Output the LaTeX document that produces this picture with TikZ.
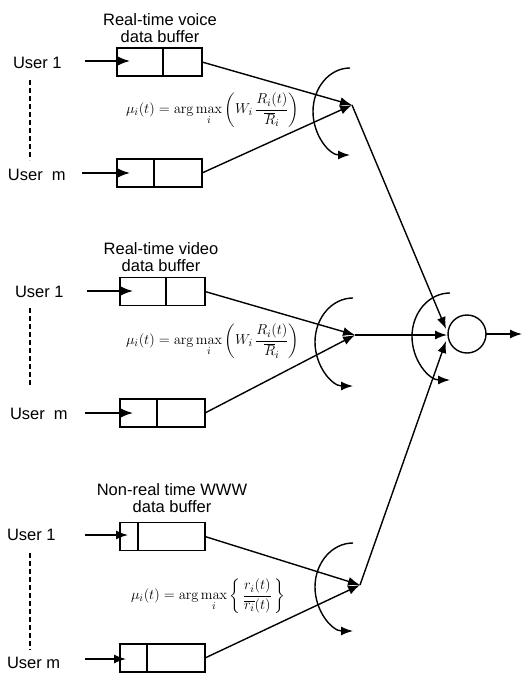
\documentclass[tikz,border=0pt]{standalone}
\usepackage{amsmath}
\usepackage[no-math]{fontspec}
\setmainfont{Liberation Sans}
\usetikzlibrary{arrows.meta}
\begin{document}
\begin{tikzpicture}[x=1pt,y=-1pt,
  every node/.style={inner sep=0pt, outer sep=0pt},
  lbl/.style={font=\fontsize{16.5}{19}\selectfont, align=center},
  frm/.style={font=\fontsize{15}{17}\selectfont},
  bufbox/.style={draw, line width=1.4pt, minimum width=85pt, minimum height=28pt},
  ln/.style={line width=1.4pt},
  arr/.style={line width=1.4pt, -{Latex[length=12pt,width=9pt]}},
  dsh/.style={line width=1.4pt, dash pattern=on 5pt off 3pt},
]
\useasboundingbox (0,0) rectangle (522,674);

% ===== voice =====
\node[lbl] (t1) at (160,28) {Real-time voice\\[-2pt]data buffer};
\node[lbl, anchor=west] (u1a) at (13,63) {User 1};
\node[lbl, anchor=west] (u1m) at (8,175) {User\hspace{0.55em}m};
\node[bufbox] (b1a) at (159.5,62) {};
\node[bufbox] (b1m) at (159.5,173) {};
\draw[ln] (163,48) -- (163,76);
\draw[ln] (154,159) -- (154,187);
\coordinate (s1a) at (85,61);
\coordinate (e1a) at (130,61);
\coordinate (s1m) at (82,173);
\coordinate (e1m) at (130,173);
\draw[arr] (s1a) -- (e1a);
\draw[arr] (s1m) -- (e1m);
\coordinate (d1t) at (30,80);
\coordinate (d1b) at (30,160);
\draw[dsh] (d1t) -- (d1b);
\coordinate (c1) at (352,105);
\draw[arr] (b1a.east) -- (c1);
\draw[arr] (b1m.east) -- (c1);
\draw[arr] (350,68) arc[start angle=270, end angle=90, x radius=37, y radius=43.5];
\node[frm, anchor=west] (f1) at (126,110) {$\mu_i(t) = \arg\max\limits_i \left(W_i\,\dfrac{R_i(t)}{\overline{R}_i}\right)$};

% ===== video =====
\node[lbl] (t2) at (161,257) {Real-time video\\[-2pt]data buffer};
\node[lbl, anchor=west] (u2a) at (15,292) {User 1};
\node[lbl, anchor=west] (u2m) at (10,414) {User\hspace{0.55em}m};
\node[bufbox] (b2a) at (162.5,291.5) {};
\node[bufbox] (b2m) at (162.5,413) {};
\draw[ln] (166,277.5) -- (166,305.5);
\draw[ln] (157,399) -- (157,427);
\coordinate (s2a) at (87,291);
\coordinate (e2a) at (133,291);
\coordinate (s2m) at (85,413);
\coordinate (e2m) at (133,413);
\draw[arr] (s2a) -- (e2a);
\draw[arr] (s2m) -- (e2m);
\coordinate (d2t) at (30,308);
\coordinate (d2b) at (30,387);
\draw[dsh] (d2t) -- (d2b);
\coordinate (c2) at (355,335);
\draw[arr] (b2a.east) -- (c2);
\draw[arr] (b2m.east) -- (c2);
\draw[arr] (353,298) arc[start angle=270, end angle=90, x radius=38, y radius=44];
\node[frm, anchor=west] (f2) at (126,341) {$\mu_i(t) = \arg\max\limits_i \left(W_i\,\dfrac{R_i(t)}{\overline{R}_i}\right)$};

% ===== WWW =====
\node[lbl] (t3) at (172,498) {Non-real time WWW\\[-2pt]data buffer};
\node[lbl, anchor=west] (u3a) at (7,535) {User 1};
\node[lbl, anchor=west] (u3m) at (7,663) {User m};
\node[bufbox] (b3a) at (162.5,536.5) {};
\node[bufbox] (b3m) at (162.5,658) {};
\draw[ln] (138,522.5) -- (138,550.5);
\draw[ln] (147,644) -- (147,672);
\coordinate (s3a) at (85,535);
\coordinate (e3a) at (128,535);
\coordinate (s3m) at (85,659);
\coordinate (e3m) at (126,659);
\draw[arr] (s3a) -- (e3a);
\draw[arr] (s3m) -- (e3m);
\coordinate (d3t) at (30,553);
\coordinate (d3b) at (30,650);
\draw[dsh] (d3t) -- (d3b);
\coordinate (c3) at (360,585);
\draw[arr] (b3a.east) -- (c3);
\draw[arr] (b3m.east) -- (c3);
\draw[arr] (353,543) arc[start angle=270, end angle=90, x radius=38, y radius=44];
\node[frm, anchor=west] (f3) at (131,596) {$\mu_i(t) = \arg\max\limits_i \left\{\,\dfrac{r_i(t)}{\overline{r_i}(t)}\,\right\}$};

% ===== combiner =====
\node[draw, circle, line width=1.4pt, minimum size=38pt] (sum) at (467,334) {};
\coordinate (in1) at (446,329);
\coordinate (in2) at (447,335);
\coordinate (in3) at (446,341);
\draw[arr] (c1) -- (in1);
\draw[arr] (c2) -- (in2);
\draw[arr] (c3) -- (in3);
\draw[arr] (450,293) arc[start angle=270, end angle=90, x radius=38, y radius=43.5];
\coordinate (out) at (522,334);
\draw[arr] (sum.east) -- (out);
\end{tikzpicture}
\end{document}
